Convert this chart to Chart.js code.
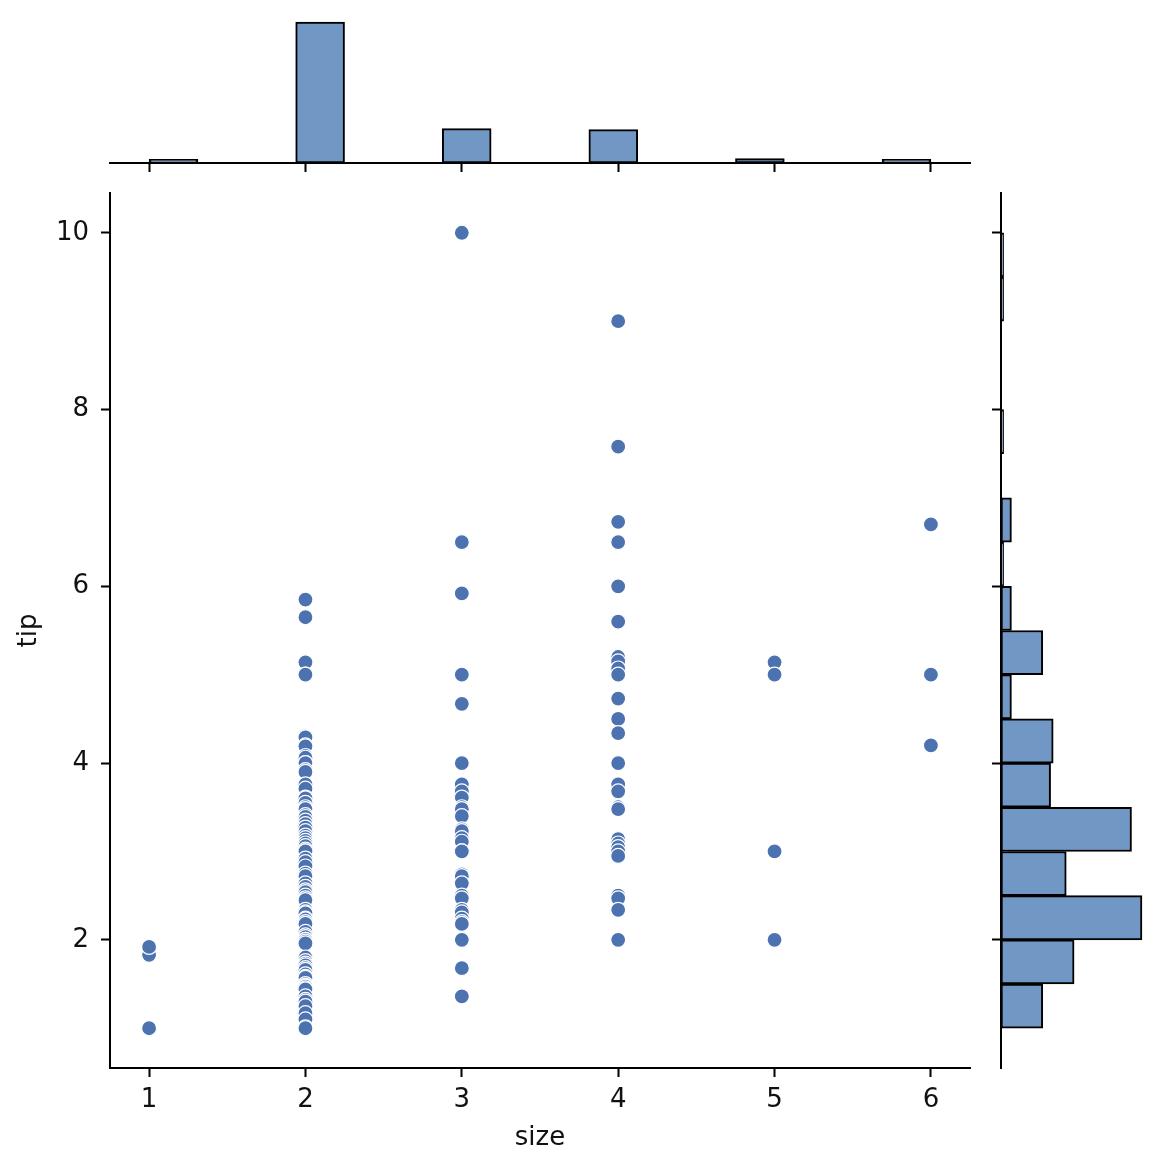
<!DOCTYPE html>
<html>
<head>
<meta charset="utf-8">
<script src="https://cdn.jsdelivr.net/npm/chart.js@4.4.1/dist/chart.umd.min.js"></script>
<style>
  html, body { margin: 0; padding: 0; background: #fff; }
  body { width: 1154px; height: 1156px; position: relative; overflow: hidden; }
  canvas { position: absolute; }
  #top-chart { left: 0; top: 0; }
  #main-chart { left: 0; top: 180px; }
  #right-chart { left: 990px; top: 180px; }
</style>
</head>
<body>
<canvas id="top-chart" width="1000" height="180"></canvas>
<canvas id="main-chart" width="1000" height="976"></canvas>
<canvas id="right-chart" width="164" height="976"></canvas>
<script>
// axis ticks
const sizeTicks = [1, 2, 3, 4, 5, 6];
const tipTicks = [2, 4, 6, 8, 10];

// tips per party size
const tipsSize1 = [1.0, 1.0, 1.83, 1.92];
const tipsSize2 = [5.85, 5.65, 5.14, 5.0, 5.0, 4.3, 4.29, 4.2, 4.19, 4.08, 4.06, 4.0, 4.0, 3.92, 3.9,
  3.76, 3.71, 3.61, 3.6, 3.55, 3.5, 3.48, 3.41, 3.39, 3.35, 3.31, 3.27, 3.23, 3.18, 3.15, 3.12,
  3.09, 3.06, 3.02, 3.0, 3.0, 2.92, 2.88, 2.83, 2.75, 2.72, 2.64, 2.6, 2.56, 2.54, 2.5, 2.47,
  2.45, 2.34, 2.31, 2.3, 2.24, 2.23, 2.2, 2.18, 2.09, 2.05, 2.03, 2.0, 2.0, 1.98, 1.96, 1.8,
  1.76, 1.73, 1.71, 1.68, 1.66, 1.61, 1.58, 1.57, 1.5, 1.48, 1.47, 1.45, 1.44, 1.36, 1.32,
  1.3, 1.25, 1.17, 1.1, 1.01, 1.0];
const tipsSize3 = [10.0, 6.5, 5.92, 5.0, 4.67, 4.0, 3.76, 3.68, 3.61, 3.5, 3.48, 3.4, 3.25, 3.23,
  3.15, 3.11, 3.0, 3.0, 2.74, 2.72, 2.64, 2.5, 2.47, 2.34, 2.31, 2.24, 2.2, 2.18, 2.0, 2.0,
  1.68, 1.36];
const tipsSize4 = [9.0, 7.58, 6.73, 6.5, 6.0, 5.6, 5.2, 5.15, 5.07, 5.0, 4.73, 4.5, 4.34, 4.0,
  3.76, 3.68, 3.5, 3.48, 3.14, 3.09, 3.05, 3.0, 2.95, 2.5, 2.47, 2.34, 2.0];
const tipsSize5 = [5.14, 5.0, 3.0, 2.0, 2.0];
const tipsSize6 = [6.7, 5.0, 5.0, 4.2];

// marginal histogram of size: 16 bins from 1 to 6
const sizeBinStart = 1;
const sizeBinWidth = 0.3125;
const sizeCounts = [4, 0, 0, 156, 0, 0, 38, 0, 0, 37, 0, 0, 5, 0, 0, 4];

// marginal histogram of tip: 18 bins from 1 to 10
const tipBinStart = 1;
const tipBinWidth = 0.5;
const tipCounts = [16, 28, 54, 25, 50, 19, 20, 4, 16, 4, 1, 4, 0, 1, 0, 0, 1, 1];

const pointColor = '#4c72b0';
const histFill = '#7197c4';
const ink = '#111';

Chart.defaults.font.family = "'DejaVu Sans', sans-serif";
Chart.defaults.font.size = 26;
Chart.defaults.color = ink;

const sizeRange = { min: 0.75, max: 6.25 };
const tipRange = { min: 0.55, max: 10.45 };

const tickGrid = { drawOnChartArea: false, tickLength: 9, tickWidth: 2, tickColor: '#000', offset: false };
const spine = { display: true, color: '#000', width: 2 };

// keep the plot box where it is, whatever the tick labels need
function fixHeight(h) {
  return s => { s.height = h; s.paddingLeft = 0; s.paddingRight = 0; };
}
function fixWidth(w) {
  return s => { s.width = w; s.paddingTop = 0; s.paddingBottom = 0; };
}

const points = [];
[tipsSize1, tipsSize2, tipsSize3, tipsSize4, tipsSize5, tipsSize6].forEach((tips, i) => {
  tips.forEach(t => points.push({ x: sizeTicks[i], y: t }));
});

// main scatter
new Chart(document.getElementById('main-chart'), {
  type: 'scatter',
  data: {
    datasets: [{
      data: points,
      backgroundColor: pointColor,
      borderColor: '#fff',
      borderWidth: 1.2,
      pointRadius: 7.5,
      pointHoverRadius: 7.5
    }]
  },
  options: {
    responsive: false,
    animation: false,
    layout: { padding: { left: 0, top: 13, right: 30, bottom: 0 } },
    plugins: { legend: { display: false }, tooltip: { enabled: false } },
    scales: {
      x: {
        type: 'linear', min: sizeRange.min, max: sizeRange.max,
        afterBuildTicks: s => { s.ticks = sizeTicks.map(v => ({ value: v })); },
        afterFit: fixHeight(88),
        grid: tickGrid,
        border: spine,
        ticks: { padding: 8, color: ink },
        title: { display: true, text: 'size', color: ink, padding: { top: 0, bottom: 2 } }
      },
      y: {
        type: 'linear', min: tipRange.min, max: tipRange.max,
        afterBuildTicks: s => { s.ticks = tipTicks.map(v => ({ value: v })); },
        afterFit: fixWidth(110),
        grid: tickGrid,
        border: spine,
        ticks: { padding: 12, color: ink },
        title: { display: true, text: 'tip', color: ink, padding: { top: 14, bottom: 0 } }
      }
    }
  }
});

// top marginal: size histogram
new Chart(document.getElementById('top-chart'), {
  type: 'bar',
  data: {
    datasets: [{
      data: sizeCounts.map((c, i) => ({ x: sizeBinStart + sizeBinWidth * (i + 0.5), y: c })),
      backgroundColor: histFill,
      borderColor: '#000',
      borderWidth: 2,
      borderSkipped: false,
      barPercentage: 1,
      categoryPercentage: 1
    }]
  },
  options: {
    responsive: false,
    animation: false,
    layout: { padding: { left: 110, top: 15, right: 30, bottom: 0 } },
    plugins: { legend: { display: false }, tooltip: { enabled: false } },
    scales: {
      x: {
        type: 'linear', min: sizeRange.min, max: sizeRange.max, offset: false,
        afterBuildTicks: s => { s.ticks = sizeTicks.map(v => ({ value: v })); },
        afterFit: fixHeight(17),
        grid: tickGrid,
        border: spine,
        ticks: { display: false }
      },
      y: { display: false, min: 0, max: 163.8 }
    }
  }
});

// right marginal: tip histogram
new Chart(document.getElementById('right-chart'), {
  type: 'bar',
  data: {
    datasets: [{
      data: tipCounts.map((c, i) => ({ y: tipBinStart + tipBinWidth * (i + 0.5), x: c })),
      backgroundColor: histFill,
      borderColor: '#000',
      borderWidth: 2,
      borderSkipped: false,
      barPercentage: 1,
      categoryPercentage: 1
    }]
  },
  options: {
    indexAxis: 'y',
    responsive: false,
    animation: false,
    layout: { padding: { left: 0, top: 13, right: 5, bottom: 88 } },
    plugins: { legend: { display: false }, tooltip: { enabled: false } },
    scales: {
      y: {
        type: 'linear', min: tipRange.min, max: tipRange.max, offset: false,
        afterBuildTicks: s => { s.ticks = tipTicks.map(v => ({ value: v })); },
        afterFit: fixWidth(11),
        grid: tickGrid,
        border: spine,
        ticks: { display: false }
      },
      x: { display: false, min: 0, max: 56.7 }
    }
  }
});
</script>
</body>
</html>
